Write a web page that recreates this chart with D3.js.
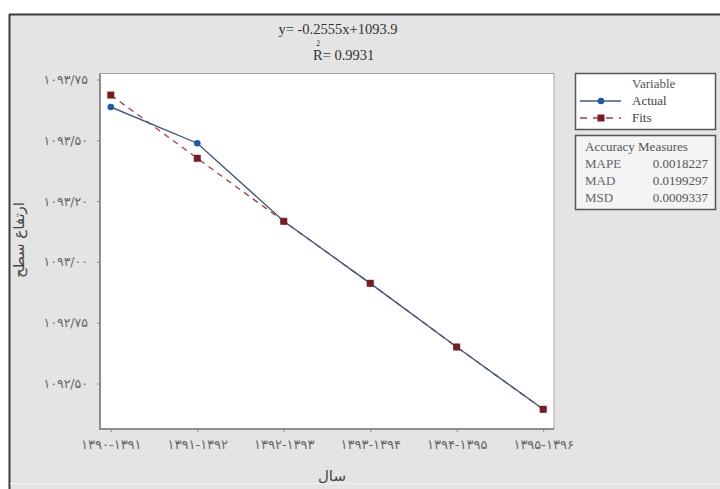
<!DOCTYPE html>
<html>
<head>
<meta charset="utf-8">
<script src="https://cdn.jsdelivr.net/npm/d3@7"></script>
<style>
  html, body { margin: 0; padding: 0; background: #ffffff; }
  svg { display: block; }
</style>
</head>
<body>
<svg id="chart" width="720" height="489"></svg>
<script>
// Time-series trend of surface level: actual values and linear-trend fits
const periods = ["۱۳۹۰-۱۳۹۱", "۱۳۹۱-۱۳۹۲", "۱۳۹۲-۱۳۹۳", "۱۳۹۳-۱۳۹۴", "۱۳۹۴-۱۳۹۵", "۱۳۹۵-۱۳۹۶"];
const actual = [1093.637, 1093.488, 1093.167, 1092.912, 1092.650, 1092.394];
const fits   = [1093.686, 1093.426, 1093.167, 1092.912, 1092.650, 1092.394];
const yTickValues = [1093.75, 1093.50, 1093.25, 1093.00, 1092.75, 1092.50];
const yTickLabels = ["۱۰۹۳/۷۵", "۱۰۹۳/۵۰", "۱۰۹۳/۲۰", "۱۰۹۳/۰۰", "۱۰۹۲/۷۵", "۱۰۹۲/۵۰"];
const equationText = "y= -0.2555x+1093.9";
const rSquaredText = "= 0.9931";
const accuracyNames = ["MAPE", "MAD", "MSD"];
const accuracyValues = ["0.0018227", "0.0199297", "0.0009337"];
const seriesNames = ["Actual", "Fits"];

const serif = "'Liberation Serif', 'DejaVu Serif', serif";
const persian = "'DejaVu Sans', sans-serif";

const svg = d3.select("#chart");
const W = 720, H = 489;
const plot = { left: 100, right: 554, top: 73.5, bottom: 429 };

// outer panel
svg.append("rect").attr("x", 9).attr("y", 14).attr("width", W - 9).attr("height", H - 14)
  .attr("fill", "#e4e4e4");
svg.append("line").attr("x1", 9).attr("x2", W).attr("y1", 14.5).attr("y2", 14.5)
  .attr("stroke", "#3a3a3a").attr("stroke-width", 2);
svg.append("line").attr("x1", 9.5).attr("x2", 9.5).attr("y1", 14).attr("y2", H)
  .attr("stroke", "#3a3a3a").attr("stroke-width", 2);
svg.append("line").attr("x1", 10).attr("x2", W).attr("y1", 483.5).attr("y2", 483.5)
  .attr("stroke", "#f2f2f2").attr("stroke-width", 1);

// plot area
svg.append("rect").attr("x", plot.left).attr("y", plot.top)
  .attr("width", plot.right - plot.left).attr("height", plot.bottom - plot.top)
  .attr("fill", "#ffffff").attr("stroke", "#a6a6a6").attr("stroke-width", 1);
svg.append("path")
  .attr("d", `M${plot.left},${plot.top} V${plot.bottom} H${plot.right}`)
  .attr("fill", "none").attr("stroke", "#7a7a7a").attr("stroke-width", 1.5);

const x = d3.scalePoint().domain(periods).range([plot.left, plot.right]).padding(0.125);
const y = d3.scaleLinear().domain([1092.313, 1093.7747]).range([plot.bottom, plot.top]);

// axes
const xAxis = d3.axisBottom(x).tickSize(3).tickPadding(8);
const gx = svg.append("g").attr("transform", `translate(0,${plot.bottom})`).call(xAxis);
gx.select(".domain").remove();
gx.selectAll(".tick line").attr("stroke", "#8a8a8a");
gx.selectAll(".tick text").attr("fill", "#666").attr("font-family", persian)
  .attr("font-size", 13).attr("letter-spacing", 0.8);

const yAxis = d3.axisLeft(y).tickValues(yTickValues)
  .tickFormat((d, i) => yTickLabels[i]).tickSize(3).tickPadding(9);
const gy = svg.append("g").attr("transform", `translate(${plot.left},0)`).call(yAxis);
gy.select(".domain").remove();
gy.selectAll(".tick line").attr("stroke", "#8a8a8a");
gy.selectAll(".tick text").attr("fill", "#666").attr("font-family", persian)
  .attr("font-size", 12.5);

// axis titles
svg.append("text").attr("transform", "translate(24,240) rotate(-90)")
  .attr("text-anchor", "middle").attr("font-family", persian).attr("font-size", 15)
  .attr("fill", "#444").text("ارتفاع سطح");
svg.append("text").attr("x", 332).attr("y", 481)
  .attr("text-anchor", "middle").attr("font-family", persian).attr("font-size", 15)
  .attr("fill", "#444").text("سال");

// regression equation
svg.append("text").attr("x", 338).attr("y", 34).attr("text-anchor", "middle")
  .attr("font-family", serif).attr("font-size", 14.5).attr("fill", "#333")
  .text(equationText);
const rText = svg.append("text").attr("x", 313).attr("y", 60)
  .attr("font-family", serif).attr("font-size", 14.5).attr("fill", "#333");
rText.append("tspan").text("R");
rText.append("tspan").text(rSquaredText);
svg.append("text").attr("x", 318).attr("y", 45.5).attr("text-anchor", "middle")
  .attr("font-family", serif).attr("font-size", 7.5).attr("fill", "#333").text("2");

// series
const colors = { actualLine: "#3d5a85", actualMark: "#1f5aa6", fitLine: "#b03a3a", fitMark: "#7a1c22" };
const line = d3.line().x((d, i) => x(periods[i])).y(d => y(d));

svg.append("path").datum(fits).attr("d", line).attr("fill", "none")
  .attr("stroke", colors.fitLine).attr("stroke-width", 1.3).attr("stroke-dasharray", "6,5");
svg.append("path").datum(actual).attr("d", line).attr("fill", "none")
  .attr("stroke", colors.actualLine).attr("stroke-width", 1.4);

svg.selectAll(".act-mark").data(actual).enter().append("circle").attr("class", "act-mark")
  .attr("cx", (d, i) => x(periods[i])).attr("cy", d => y(d)).attr("r", 3.3)
  .attr("fill", colors.actualMark);
svg.selectAll(".fit-mark").data(fits).enter().append("rect").attr("class", "fit-mark")
  .attr("x", (d, i) => x(periods[i]) - 3.5).attr("y", d => y(d) - 3.5)
  .attr("width", 7).attr("height", 7).attr("fill", colors.fitMark);

// legend box
const lg = svg.append("g").attr("font-family", serif).attr("font-size", 13);
lg.append("rect").attr("x", 575.5).attr("y", 73.5).attr("width", 140).attr("height", 56)
  .attr("fill", "#ffffff").attr("stroke", "#555").attr("stroke-width", 1.5);
lg.append("text").attr("x", 632).attr("y", 88).attr("fill", "#555").text("Variable");
lg.append("line").attr("x1", 580).attr("x2", 621).attr("y1", 101).attr("y2", 101)
  .attr("stroke", colors.actualLine).attr("stroke-width", 1.4);
lg.append("circle").attr("cx", 601).attr("cy", 101).attr("r", 3.3).attr("fill", colors.actualMark);
lg.append("text").attr("x", 632).attr("y", 105).attr("fill", "#444").text(seriesNames[0]);
lg.append("line").attr("x1", 580).attr("x2", 621).attr("y1", 118).attr("y2", 118)
  .attr("stroke", colors.fitLine).attr("stroke-width", 1.3).attr("stroke-dasharray", "7,6");
lg.append("rect").attr("x", 597.5).attr("y", 114.5).attr("width", 7).attr("height", 7)
  .attr("fill", colors.fitMark);
lg.append("text").attr("x", 632).attr("y", 122).attr("fill", "#444").text(seriesNames[1]);

// accuracy measures box
const ag = svg.append("g").attr("font-family", serif).attr("font-size", 13);
ag.append("rect").attr("x", 575.5).attr("y", 135.5).attr("width", 140).attr("height", 74)
  .attr("fill", "#f4f4f4").attr("stroke", "#555").attr("stroke-width", 1.5);
ag.append("text").attr("x", 585).attr("y", 151).attr("fill", "#555").text("Accuracy Measures");
ag.selectAll(".acc-name").data(accuracyNames).enter().append("text")
  .attr("x", 585).attr("y", (d, i) => 168 + i * 17).attr("fill", "#666").text(d => d);
ag.selectAll(".acc-val").data(accuracyValues).enter().append("text")
  .attr("x", 708).attr("y", (d, i) => 168 + i * 17).attr("text-anchor", "end")
  .attr("fill", "#555").text(d => d);
</script>
</body>
</html>
